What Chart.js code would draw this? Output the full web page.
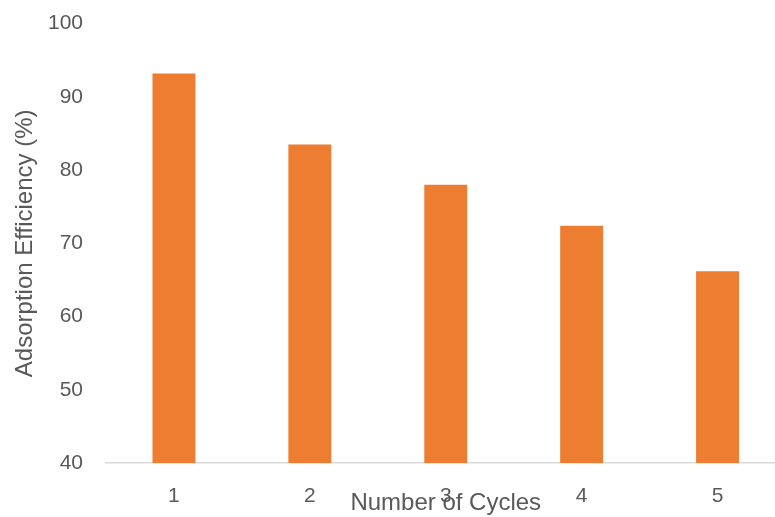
<!DOCTYPE html>
<html>
<head>
<meta charset="utf-8">
<title>Adsorption Efficiency vs Number of Cycles</title>
<script src="https://cdn.jsdelivr.net/npm/chart.js@4/dist/chart.umd.min.js"></script>
<style>
  html, body { margin: 0; padding: 0; background: #ffffff; overflow: hidden; }
  #wrap { position: absolute; left: 0; top: -12px; }
  canvas { display: block; }
</style>
</head>
<body>
<div id="wrap"><canvas id="chart" width="790" height="532"></canvas></div>
<script>
// Reuse cycles and adsorption efficiency (%) after each cycle
const cycles = ['1', '2', '3', '4', '5'];
const efficiency = [93.2, 83.5, 78.0, 72.4, 66.2];
const yTicks = [40, 50, 60, 70, 80, 90, 100];

const textGray = '#595959';
const barOrange = '#ED7D31';
const fontFamily = '"Liberation Sans", Arial, sans-serif';

new Chart(document.getElementById('chart'), {
  type: 'bar',
  data: {
    labels: cycles,
    datasets: [{
      label: 'Adsorption Efficiency (%)',
      data: efficiency,
      backgroundColor: barOrange,
      borderWidth: 0,
      barPercentage: 0.316,
      categoryPercentage: 1.0
    }]
  },
  options: {
    responsive: false,
    animation: false,
    devicePixelRatio: 1,
    layout: { padding: { left: 0, right: 4.5, top: 0, bottom: 2 } },
    plugins: {
      legend: { display: false },
      tooltip: { enabled: false }
    },
    scales: {
      x: {
        grid: { display: false, drawTicks: false },
        border: { display: true, color: '#D9D9D9', width: 1.5 },
        ticks: {
          color: textGray,
          padding: 21,
          font: { family: fontFamily, size: 21 }
        },
        title: {
          display: true,
          text: 'Number of Cycles',
          color: textGray,
          font: { family: fontFamily, size: 24 },
          padding: { top: 0, bottom: 0 }
        },
        afterFit(scale) { scale.height = 55; }
      },
      y: {
        min: 40,
        max: 100,
        grid: { display: false, drawTicks: false },
        border: { display: false },
        afterBuildTicks(scale) { scale.ticks = yTicks.map(v => ({ value: v })); },
        ticks: {
          color: textGray,
          padding: 23,
          font: { family: fontFamily, size: 21 }
        },
        title: {
          display: true,
          text: 'Adsorption Efficiency (%)',
          color: textGray,
          font: { family: fontFamily, size: 24 },
          padding: { top: 11, bottom: 0 }
        },
        afterFit(scale) { scale.width = 106; }
      }
    }
  }
});
</script>
</body>
</html>
